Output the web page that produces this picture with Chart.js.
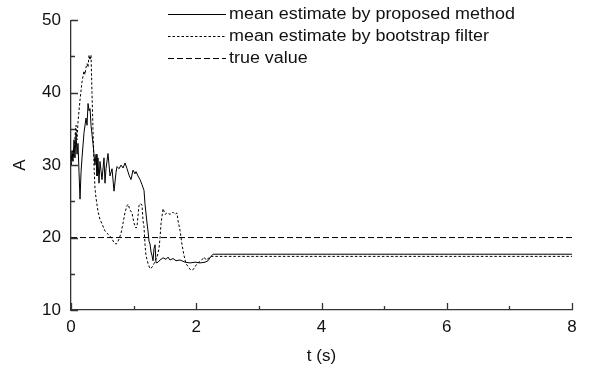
<!DOCTYPE html>
<html>
<head>
<meta charset="utf-8">
<script src="https://cdn.jsdelivr.net/npm/chart.js@4.4.1/dist/chart.umd.min.js"></script>
<style>
  html, body { margin: 0; padding: 0; background: #fff; }
  #wrap { width: 590px; height: 367px; }
</style>
</head>
<body>
<div id="wrap"><canvas id="estChart" width="590" height="367"></canvas></div>
<script>
// --- data ---
const tProposed = [0, 0.016, 0.032, 0.048, 0.064, 0.08, 0.096, 0.112, 0.128, 0.144, 0.16, 0.176, 0.208, 0.24, 0.256, 0.272, 0.288, 0.304, 0.32, 0.351, 0.383, 0.4, 0.415, 0.431, 0.447, 0.463, 0.495, 0.527, 0.543, 0.559, 0.591, 0.623, 0.655, 0.687, 0.719, 0.735, 0.767, 0.799, 0.831, 0.863, 0.895, 0.927, 0.958, 0.99, 1.022, 1.038, 1.07, 1.102, 1.134, 1.166, 1.182, 1.214, 1.23, 1.246, 1.262, 1.278, 1.294, 1.31, 1.326, 1.342, 1.358, 1.39, 1.422, 1.47, 1.518, 1.55, 1.581, 1.629, 1.677, 1.741, 1.821, 1.901, 1.981, 2.061, 2.141, 2.188, 2.236, 2.268, 8];
const aProposed = [30, 32, 30.5, 33.5, 31, 34.5, 31.5, 33, 29, 25.3, 29, 31, 34.5, 36.5, 35.5, 38.5, 37.5, 37.8, 35.5, 33, 30, 31.5, 28.5, 31, 27.5, 30.5, 28, 31, 27.5, 29.5, 31.6, 28.5, 29.5, 26.4, 29, 29.8, 29.5, 30, 29.6, 30.3, 29.5, 28.6, 28, 29.3, 28.8, 29.1, 28.5, 28, 27.3, 26.5, 24.6, 22, 20.9, 19.5, 19.1, 18, 17.5, 16.8, 18.5, 19, 16.5, 16.6, 16.9, 17.2, 17, 17.3, 16.9, 17.1, 16.8, 16.9, 16.6, 16.5, 16.6, 16.5, 16.6, 16.8, 17.4, 17.7, 17.7];

const tBootstrap = [0, 0.016, 0.032, 0.048, 0.064, 0.08, 0.096, 0.112, 0.128, 0.144, 0.176, 0.208, 0.224, 0.24, 0.256, 0.272, 0.288, 0.304, 0.32, 0.335, 0.351, 0.367, 0.383, 0.399, 0.431, 0.463, 0.495, 0.543, 0.575, 0.623, 0.655, 0.687, 0.719, 0.735, 0.767, 0.799, 0.831, 0.863, 0.895, 0.911, 0.942, 0.974, 1.006, 1.038, 1.054, 1.07, 1.086, 1.102, 1.134, 1.15, 1.166, 1.182, 1.198, 1.23, 1.262, 1.294, 1.326, 1.342, 1.374, 1.406, 1.422, 1.438, 1.47, 1.502, 1.534, 1.581, 1.629, 1.661, 1.693, 1.709, 1.741, 1.773, 1.805, 1.837, 1.869, 1.901, 1.933, 1.965, 1.997, 2.029, 2.077, 2.125, 2.157, 2.204, 2.236, 8];
const aBootstrap = [30, 30.5, 32, 31, 34, 35.5, 33.5, 36, 37.5, 39, 41.5, 43, 42.5, 43.5, 44, 43.5, 45.2, 44.5, 45.2, 40, 35, 30, 26.8, 25.5, 23.6, 22.5, 21.9, 20.9, 20.6, 20.2, 19.8, 19.3, 19.1, 19.2, 19.8, 20.6, 22, 23.5, 24.4, 24.6, 23.8, 23.4, 22, 21.3, 21.5, 23, 24.4, 24.7, 24.5, 22.3, 21.5, 19, 17.5, 16.4, 15.7, 15.9, 16.4, 16.8, 17.3, 18.5, 20, 22, 24, 23.2, 23.4, 23.2, 23.5, 23.2, 23.4, 22.3, 21, 19, 17.5, 16.4, 16, 15.6, 15.5, 15.7, 16.2, 16.5, 16.8, 17.3, 16.9, 17.2, 17.4, 17.4];

const tTrue = [0, 8];
const aTrue = [20, 20];

const seriesLabels = ['mean estimate by proposed method', 'mean estimate by bootstrap filter', 'true value'];

const toPoints = (xs, ys) => xs.map((x, i) => ({ x: x, y: ys[i] }));

const FONT = 'Liberation Sans, Arial, Helvetica, sans-serif';
const INK = '#111';

// inward tick marks (major with labels, minor without)
const inwardTicks = {
    id: 'inwardTicks',
    afterDatasetsDraw(chart) {
        const ctx = chart.ctx;
        const area = chart.chartArea;
        const xs = chart.scales.x, ys = chart.scales.y;
        ctx.save();
        ctx.strokeStyle = '#333';
        ctx.lineWidth = 1.3;
        ctx.beginPath();
        xs.ticks.forEach(t => {
            const px = Math.round(xs.getPixelForValue(t.value)) + 0.5;
            const len = t.value % 2 === 0 ? 7 : 4;
            ctx.moveTo(px, area.bottom);
            ctx.lineTo(px, area.bottom - len);
        });
        ys.ticks.forEach(t => {
            const py = Math.round(ys.getPixelForValue(t.value)) + 0.5;
            const len = t.value % 10 === 0 ? 7 : 4;
            ctx.moveTo(area.left, py);
            ctx.lineTo(area.left + len, py);
        });
        ctx.stroke();
        ctx.restore();
    }
};

// legend drawn in the upper right, lines then labels
const lineLegend = {
    id: 'lineLegend',
    afterDraw(chart) {
        const ctx = chart.ctx;
        const x0 = 168, x1 = 226, tx = 229;
        const rows = [14, 36, 58];
        ctx.save();
        chart.data.datasets.forEach((ds, i) => {
            ctx.strokeStyle = ds.borderColor;
            ctx.lineWidth = ds.borderWidth;
            ctx.setLineDash(ds.borderDash || []);
            ctx.beginPath();
            ctx.moveTo(x0, rows[i] + 0.5);
            ctx.lineTo(x1, rows[i] + 0.5);
            ctx.stroke();
            ctx.setLineDash([]);
            // the source typeface runs a little wider than Liberation Sans
            ctx.save();
            ctx.translate(tx, rows[i] + 1);
            ctx.scale(1.12, 1);
            ctx.fillStyle = INK;
            ctx.font = '16px ' + FONT;
            ctx.textBaseline = 'middle';
            ctx.fillText(ds.label, 0, 0);
            ctx.restore();
        });
        ctx.restore();
    }
};

const ctx = document.getElementById('estChart').getContext('2d');
new Chart(ctx, {
    type: 'scatter',
    data: {
        datasets: [{
            label: seriesLabels[0],
            data: toPoints(tProposed, aProposed),
            showLine: true,
            borderColor: '#000',
            borderWidth: 1,
            pointRadius: 0,
            tension: 0
        }, {
            label: seriesLabels[1],
            data: toPoints(tBootstrap, aBootstrap),
            showLine: true,
            borderColor: '#000',
            borderWidth: 1,
            borderDash: [2.5, 2],
            pointRadius: 0,
            tension: 0
        }, {
            label: seriesLabels[2],
            data: toPoints(tTrue, aTrue),
            showLine: true,
            borderColor: '#000',
            borderWidth: 1,
            borderDash: [6, 3],
            pointRadius: 0,
            tension: 0
        }]
    },
    options: {
        responsive: false,
        animation: false,
        events: [],
        layout: { padding: { left: 0, right: 18, top: 17, bottom: 0 } },
        plugins: {
            legend: { display: false },
            tooltip: { enabled: false }
        },
        scales: {
            x: {
                type: 'linear',
                min: 0, max: 8,
                border: { display: true, color: '#333', width: 1.3 },
                grid: { display: false, drawTicks: false },
                ticks: {
                    stepSize: 1,
                    padding: 7,
                    color: INK,
                    font: { family: FONT, size: 17 },
                    callback: v => (v % 2 === 0 ? v : '')
                },
                title: {
                    display: true,
                    text: 't (s)',
                    color: INK,
                    font: { family: FONT, size: 17 },
                    padding: { top: 4, bottom: 0 }
                },
                afterFit: s => { s.height = 57; }
            },
            y: {
                min: 10, max: 50,
                border: { display: true, color: '#333', width: 1.3 },
                grid: { display: false, drawTicks: false },
                ticks: {
                    stepSize: 5,
                    padding: 10,
                    color: INK,
                    font: { family: FONT, size: 17 },
                    callback: v => (v % 10 === 0 ? v : '')
                },
                title: {
                    display: true,
                    text: 'A',
                    color: INK,
                    font: { family: FONT, size: 17 },
                    padding: { top: 10, bottom: 4 }
                },
                afterFit: s => { s.width = 71; }
            }
        }
    },
    plugins: [inwardTicks, lineLegend]
});
</script>
</body>
</html>
